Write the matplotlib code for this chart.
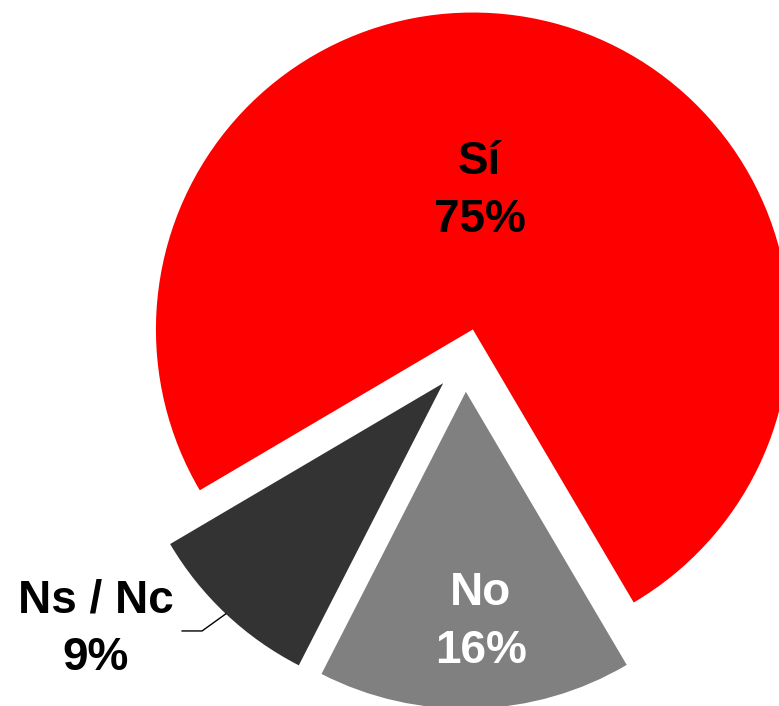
import numpy as np
import matplotlib
matplotlib.use("Agg")
import matplotlib.pyplot as plt

plt.rcParams['font.family'] = ['Liberation Sans', 'DejaVu Sans']

labels = ['Sí', 'No', 'Ns / Nc']
values = [75, 16, 9]
colors = ['#FF0000', '#808080', '#333333']
text_colors = ['black', 'white', 'black']
explode = [0.1, 0.1, 0.1]

fig = plt.figure(figsize=(7.79, 7.06), dpi=100)
ax = fig.add_axes([0, 0, 1, 1])

# Sí starts at -59.5 deg and runs counterclockwise, then Ns/Nc, then No
order = [0, 2, 1]
wedges, _ = ax.pie([values[i] for i in order], colors=[colors[i] for i in order],
                   explode=[explode[i] for i in order], startangle=-59.5,
                   counterclock=True, radius=1, wedgeprops=dict(linewidth=0))

ax.set_xlim(-1.467, 0.991)
ax.set_ylim(-1.091, 1.136)
ax.set_aspect('equal')
ax.axis('off')

fs = 33
ls = 1.4
# label positions (data units, pie centre at 0,0)
ax.text(0.047, 0.533, f'{labels[0]}\n{values[0]}%', ha='center', va='center',
        fontsize=fs, fontweight='bold', color=text_colors[0], linespacing=ls)
ax.text(0.05, -0.826, f'{labels[1]}\n{values[1]}%', ha='center', va='center',
        fontsize=fs, fontweight='bold', color=text_colors[1], linespacing=ls)
ax.text(-1.164, -0.849, f'{labels[2]}\n{values[2]}%', ha='center', va='center',
        fontsize=fs, fontweight='bold', color=text_colors[2], linespacing=ls)

# leader line for Ns / Nc, ending on the arc of its wedge
w = wedges[1]
mid = np.deg2rad((w.theta1 + w.theta2) / 2)
cx, cy = w.center
ex, ey = cx + np.cos(mid) * w.r, cy + np.sin(mid) * w.r
ax.plot([ex - 0.138, ex - 0.075, ex], [ey - 0.054, ey - 0.054, ey],
        color='black', linewidth=1)

fig.savefig('out.png', dpi=100)
